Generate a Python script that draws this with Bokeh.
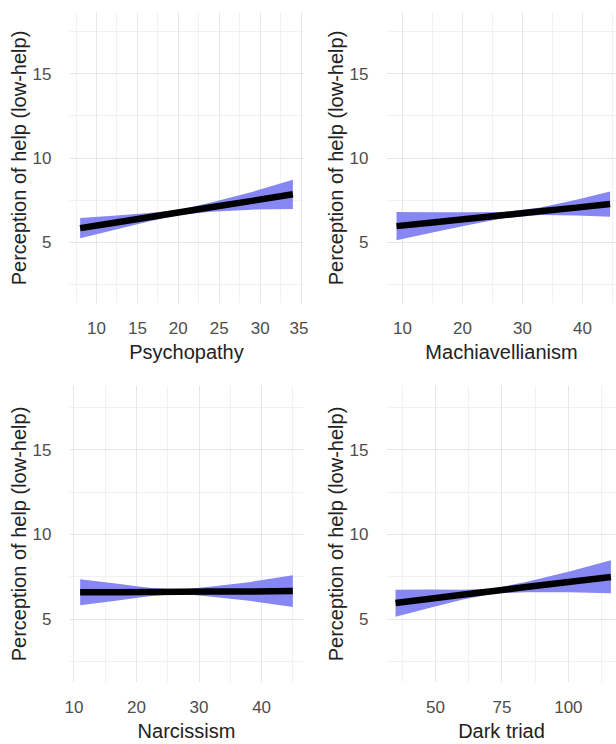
from bokeh.plotting import figure
from bokeh.layouts import gridplot
from bokeh.models import Range1d, FixedTicker, ColumnDataSource
from bokeh.embed import file_html
from bokeh.resources import INLINE

# ---- data ----
y_title = "Perception of help (low-help)"
y_ticks = [5, 10, 15]
y_minor = [2.5, 7.5, 12.5, 17.5]

psy_x = [8, 12, 16, 20, 24, 29, 34]
psy_fit = [5.83, 6.14, 6.45, 6.76, 7.07, 7.45, 7.84]
psy_lo = [5.23, 5.71, 6.18, 6.61, 6.80, 6.93, 6.97]
psy_hi = [6.43, 6.57, 6.72, 6.91, 7.36, 7.98, 8.70]
psy_ticks = [10, 15, 20, 25, 30, 35]
psy_minor = [7.5, 12.5, 17.5, 22.5, 27.5, 32.5]

mach_x = [9, 15, 21, 27, 33, 39, 44.6]
mach_fit = [5.95, 6.17, 6.39, 6.61, 6.83, 7.05, 7.26]
mach_lo = [5.11, 5.57, 6.01, 6.43, 6.61, 6.58, 6.51]
mach_hi = [6.79, 6.77, 6.77, 6.79, 7.05, 7.52, 8.01]
mach_ticks = [10, 20, 30, 40]
mach_minor = [15, 25, 35, 45]

narc_x = [11, 17, 22, 27, 32, 38, 45]
narc_fit = [6.58, 6.59, 6.60, 6.61, 6.62, 6.63, 6.65]
narc_lo = [5.81, 6.09, 6.35, 6.49, 6.32, 6.08, 5.71]
narc_hi = [7.35, 7.09, 6.85, 6.73, 6.92, 7.18, 7.59]
narc_ticks = [10, 20, 30, 40]
narc_minor = [15, 25, 35, 45]

dark_x = [35, 48, 60, 72, 84, 100, 116]
dark_fit = [5.95, 6.20, 6.43, 6.66, 6.89, 7.19, 7.49]
dark_lo = [5.13, 5.66, 6.14, 6.51, 6.59, 6.59, 6.53]
dark_hi = [6.73, 6.74, 6.73, 6.81, 7.19, 7.79, 8.48]
dark_ticks = [50, 75, 100]
dark_minor = [37.5, 62.5, 87.5, 112.5]

FONT = "Liberation Sans"
BAND = "#8787f3"


def panel(x, fit, lo, hi, xlabel, xticks, xminor, xr, yr, bl, br, bt, bb):
    p = figure(width=308, height=372, output_backend="svg", toolbar_location=None,
               x_range=Range1d(*xr), y_range=Range1d(*yr),
               min_border_left=bl, min_border_right=br,
               min_border_top=bt, min_border_bottom=bb)
    p.outline_line_color = None
    p.background_fill_color = "white"
    p.border_fill_color = "white"
    src = ColumnDataSource(dict(x=x, fit=fit, lo=lo, hi=hi))
    p.varea(x="x", y1="lo", y2="hi", source=src, fill_color=BAND, fill_alpha=1.0)
    p.line(x="x", y="fit", source=src, line_color="black", line_width=6.5)

    p.xaxis.ticker = FixedTicker(ticks=xticks, minor_ticks=xminor)
    p.yaxis.ticker = FixedTicker(ticks=y_ticks, minor_ticks=y_minor)
    for g in (p.xgrid[0], p.ygrid[0]):
        g.grid_line_color = "#e6e6e6"
        g.grid_line_width = 1
        g.minor_grid_line_color = "#ededed"
        g.minor_grid_line_width = 0.8
    for ax in (p.xaxis[0], p.yaxis[0]):
        ax.axis_line_color = None
        ax.major_tick_line_color = None
        ax.minor_tick_line_color = None
        ax.major_label_text_font = FONT
        ax.major_label_text_font_size = "17px"
        ax.major_label_text_color = "#4d4d4d"
        ax.axis_label_text_font = FONT
        ax.axis_label_text_font_size = "20px"
        ax.axis_label_text_font_style = "normal"
        ax.axis_label_text_color = "#222222"
        ax.major_label_standoff = 12
    p.xaxis.axis_label_standoff = 4
    p.yaxis.axis_label_standoff = 0
    p.xaxis.axis_label = xlabel
    p.yaxis.axis_label = y_title
    return p


p1 = panel(psy_x, psy_fit, psy_lo, psy_hi, "Psychopathy", psy_ticks, psy_minor,
           (6.7, 35.3), (1.35, 18.65), 69, 3, 12, 69)
p2 = panel(mach_x, mach_fit, mach_lo, mach_hi, "Machiavellianism", mach_ticks, mach_minor,
           (7.33, 45.67), (1.35, 18.65), 78, 0, 12, 69)
p3 = panel(narc_x, narc_fit, narc_lo, narc_hi, "Narcissism", narc_ticks, narc_minor,
           (9.3, 46.7), (1.25, 18.8), 68, 5, 13, 62)
p4 = panel(dark_x, dark_fit, dark_lo, dark_hi, "Dark triad", dark_ticks, dark_minor,
           (31.6, 118.1), (1.25, 18.8), 78, 0, 13, 62)

grid = gridplot([[p1, p2], [p3, p4]], toolbar_location=None)
open("out.html", "w").write(file_html(grid, INLINE))
